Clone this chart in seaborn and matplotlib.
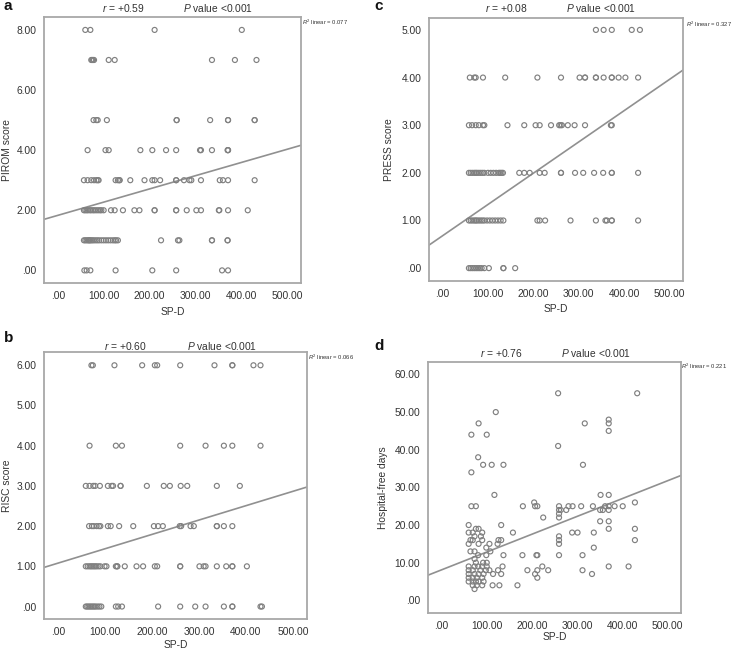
import matplotlib
matplotlib.use("Agg")
import matplotlib.pyplot as plt
import seaborn as sns
import numpy as np

# ---------------- data ----------------
x_ticks = [0, 100, 200, 300, 400, 500]

# Panel a: PIROM score vs SP-D
pirom_spd = [60, 71, 211, 401,
             73, 75, 77, 79, 111, 124, 336, 386, 433,
             78, 84, 87, 107, 259, 259, 332, 371, 371, 429, 429,
             65, 104, 111, 180, 206, 236, 258, 310, 312, 336, 370, 371, 371,
             57, 65, 73, 79, 84, 87, 89, 126, 131, 134, 135, 158, 189, 206, 211, 223, 258, 258, 275, 287, 291, 312, 353, 360, 371, 429,
             57, 60, 63, 66, 70, 73, 77, 80, 84, 88, 92, 95, 100, 116, 124, 142, 167, 178, 211, 211, 258, 258, 281, 302, 312, 351, 352, 371, 414,
             57, 60, 63, 66, 68, 70, 72, 75, 78, 82, 86, 90, 95, 100, 105, 110, 115, 120, 124, 127, 131, 225, 262, 265, 336, 336, 370, 370,
             58, 63, 71, 126, 206, 258, 358, 371]
pirom_score = [8, 8, 8, 8,
               7, 7, 7, 7, 7, 7, 7, 7, 7,
               5, 5, 5, 5, 5, 5, 5, 5, 5, 5, 5,
               4, 4, 4, 4, 4, 4, 4, 4, 4, 4, 4, 4, 4,
               3, 3, 3, 3, 3, 3, 3, 3, 3, 3, 3, 3, 3, 3, 3, 3, 3, 3, 3, 3, 3, 3, 3, 3, 3, 3,
               2, 2, 2, 2, 2, 2, 2, 2, 2, 2, 2, 2, 2, 2, 2, 2, 2, 2, 2, 2, 2, 2, 2, 2, 2, 2, 2, 2, 2,
               1, 1, 1, 1, 1, 1, 1, 1, 1, 1, 1, 1, 1, 1, 1, 1, 1, 1, 1, 1, 1, 1, 1, 1, 1, 1, 1, 1,
               0, 0, 0, 0, 0, 0, 0, 0]
pirom_yticks = [0, 2, 4, 6, 8]
pirom_fit = (1.83, 0.0044)   # intercept, slope

# Panel c: PRESS score vs SP-D
press_spd = [338, 355, 373, 417, 435,
             60, 70, 73, 89, 138, 209, 261, 302, 314, 314, 338, 338, 355, 373, 373, 388, 403, 431,
             58, 65, 73, 80, 89, 92, 143, 180, 205, 214, 239, 257, 260, 263, 276, 291, 314, 371, 373,
             58, 62, 66, 70, 73, 76, 80, 84, 88, 92, 100, 106, 112, 118, 124, 127, 130, 133, 169, 180, 192, 214, 225, 261, 261, 292, 310, 334, 354, 373, 373, 431,
             58, 62, 66, 70, 73, 76, 80, 84, 88, 92, 98, 104, 110, 116, 122, 128, 134, 209, 214, 226, 282, 338, 359, 362, 373, 373, 431,
             58, 62, 66, 70, 74, 78, 82, 86, 92, 102, 134, 134, 160]
press_score = [5, 5, 5, 5, 5,
               4, 4, 4, 4, 4, 4, 4, 4, 4, 4, 4, 4, 4, 4, 4, 4, 4, 4,
               3, 3, 3, 3, 3, 3, 3, 3, 3, 3, 3, 3, 3, 3, 3, 3, 3, 3, 3,
               2, 2, 2, 2, 2, 2, 2, 2, 2, 2, 2, 2, 2, 2, 2, 2, 2, 2, 2, 2, 2, 2, 2, 2, 2, 2, 2, 2, 2, 2, 2, 2,
               1, 1, 1, 1, 1, 1, 1, 1, 1, 1, 1, 1, 1, 1, 1, 1, 1, 1, 1, 1, 1, 1, 1, 1, 1, 1, 1,
               0, 0, 0, 0, 0, 0, 0, 0, 0, 0, 0, 0, 0]
press_yticks = [0, 1, 2, 3, 4, 5]
press_fit = (0.68, 0.00656)

# Panel b: RISC score vs SP-D
risc_spd = [71, 74, 120, 179, 206, 211, 260, 333, 371, 371, 416, 431,
            67, 123, 136, 260, 314, 353, 371, 431,
            59, 67, 75, 79, 89, 106, 114, 117, 133, 133, 189, 225, 238, 261, 275, 338, 387,
            66, 72, 76, 82, 87, 90, 106, 112, 130, 160, 204, 213, 223, 259, 262, 282, 289, 338, 338, 353, 371,
            59, 63, 67, 70, 73, 76, 79, 82, 86, 90, 99, 103, 123, 126, 126, 142, 167, 181, 206, 211, 260, 260, 301, 310, 314, 338, 358, 371, 371, 402,
            59, 62, 65, 68, 71, 74, 77, 80, 84, 88, 92, 123, 128, 136, 213, 260, 292, 314, 353, 371, 371, 431, 434]
risc_score = [6, 6, 6, 6, 6, 6, 6, 6, 6, 6, 6, 6,
              4, 4, 4, 4, 4, 4, 4, 4,
              3, 3, 3, 3, 3, 3, 3, 3, 3, 3, 3, 3, 3, 3, 3, 3, 3,
              2, 2, 2, 2, 2, 2, 2, 2, 2, 2, 2, 2, 2, 2, 2, 2, 2, 2, 2, 2, 2,
              1, 1, 1, 1, 1, 1, 1, 1, 1, 1, 1, 1, 1, 1, 1, 1, 1, 1, 1, 1, 1, 1, 1, 1, 1, 1, 1, 1, 1, 1,
              0, 0, 0, 0, 0, 0, 0, 0, 0, 0, 0, 0, 0, 0, 0, 0, 0, 0, 0, 0, 0, 0, 0]
risc_yticks = [0, 1, 2, 3, 4, 5, 6]
risc_fit = (1.08, 0.00357)

# Panel d: Hospital-free days vs SP-D
hfd_spd = [66, 82, 100, 120, 66, 81, 92, 111, 137, 117, 66, 76, 60,
           258, 433, 258, 317, 370, 370, 370, 313,
           352, 370, 428,
           180, 205, 207, 212, 225, 260, 260, 264, 276, 281, 290, 309, 335, 351, 357, 362, 370, 383, 401, 370,
           260, 260, 351, 370, 370, 428, 428,
           260, 260, 260, 260, 289, 301, 337, 337, 312, 312, 333, 370, 414,
           158, 179, 210, 212, 190, 207, 212, 212, 223, 236, 168, 137, 132, 126, 124, 132, 135, 132, 125, 128, 113, 114, 106, 98, 100, 100, 99, 99, 106, 108,
           60, 64, 60, 69, 73, 76, 82, 69, 90, 87, 90, 82, 64, 73, 81, 73, 76, 92, 60, 73, 81, 90, 60, 69, 86, 60, 73, 82, 93, 60, 69, 78, 90, 60, 69, 76, 82, 93, 69, 78, 90, 73]
hfd_days = [44, 47, 44, 50, 34, 38, 36, 36, 36, 28, 25, 25, 20,
            55, 55, 41, 47, 48, 47, 45, 36,
            28, 28, 26,
            25, 26, 25, 25, 22, 25, 24, 24, 24, 25, 25, 25, 25, 24, 24, 25, 25, 25, 25, 24,
            23, 22, 21, 21, 19, 19, 16,
            17, 16, 15, 12, 18, 18, 18, 14, 12, 8, 7, 9, 9,
            18, 12, 12, 12, 8, 7, 8, 6, 9, 8, 4, 12, 20, 16, 15, 16, 9, 7, 8, 4, 4, 7, 8, 8, 10, 9, 12, 14, 15, 13,
            18, 16, 15, 16, 17, 19, 19, 18, 18, 17, 16, 15, 13, 13, 12, 11, 10, 10, 9, 9, 9, 9, 8, 8, 8, 7, 7, 7, 7, 6, 6, 6, 6, 5, 5, 5, 5, 5, 4, 4, 4, 3]
hfd_yticks = [0, 10, 20, 30, 40, 50, 60]
hfd_fit = (8.1, 0.0473)

# annotation texts
panel_letters = ["a", "c", "b", "d"]
r_texts = ["+0.59", "+0.08", "+0.60", "+0.76"]
p_text = "value <0.001"
r2_texts = ["0.077", "0.327", "0.066", "0.221"]
y_labels = ["PIROM score", "PRESS score", "RISC score", "Hospital-free days"]
x_label = "SP-D"

# ---------------- style ----------------
sns.set_style("white")
plt.rcParams["font.family"] = ["Liberation Sans", "DejaVu Sans"]
plt.rcParams["mathtext.fontset"] = "custom"
plt.rcParams["mathtext.it"] = "Liberation Sans:italic"
plt.rcParams["mathtext.rm"] = "Liberation Sans"

W, H = 736, 650
fig = plt.figure(figsize=(W / 100, H / 100), dpi=100)
fig.patch.set_facecolor("white")

TXT = "#333333"
FRAME = "#a8a8a8"
PT = "#808080"
LINE = "#909090"

def fx(px):
    return px / W

def fy(py):
    return 1 - py / H

def fmt(v):
    s = f"{v:.2f}"
    return s[1:] if s.startswith("0") else s

# axes rectangles in pixels: left, top, right, bottom
rects = [(44, 17, 301, 283), (429, 18, 683, 281), (44, 352, 307, 619), (428, 362, 681, 613)]
ylims = [(-0.42, 8.43), (-0.27, 5.25), (-0.31, 6.33), (-3.36, 63.3)]
datasets = [(pirom_spd, pirom_score, pirom_yticks, pirom_fit),
            (press_spd, press_score, press_yticks, press_fit),
            (risc_spd, risc_score, risc_yticks, risc_fit),
            (hfd_spd, hfd_days, hfd_yticks, hfd_fit)]
letter_pos = [(4, 6), (374, 6), (4, 338), (374, 346)]
r_pos = [(123, 8), (506, 8), (125, 346), (501, 353)]
p_pos = [(218, 8), (601, 8), (222, 346), (596, 353)]
r2_pos = [(302, 22), (686, 24), (308, 357), (681, 366)]
ylab_x = [7, 389, 7, 383]
xlab_y = [312, 309, 645, 637]

for i, (l, t, r, b) in enumerate(rects):
    ax = fig.add_axes([fx(l), fy(b), fx(r) - fx(l), (b - t) / H])
    xs, ys, yt, (b0, m) = datasets[i]
    sns.scatterplot(x=xs, y=ys, ax=ax, s=13, marker="o", facecolor="none",
                    edgecolor=PT, linewidth=0.85, zorder=3)
    ax.axline((0, b0), slope=m, color=LINE, lw=1.2, zorder=2)
    ax.set_xlim(-30, 530)
    ax.set_ylim(*ylims[i])
    ax.set_xticks(x_ticks)
    ax.set_xticklabels([fmt(v) for v in x_ticks])
    ax.set_yticks(yt)
    ax.set_yticklabels([fmt(v) for v in yt])
    ax.tick_params(axis="both", labelsize=7.4, colors=TXT, length=2.5, width=0.8,
                   direction="out", pad=3)
    ax.tick_params(axis="both", color=FRAME)
    for sp in ax.spines.values():
        sp.set_color(FRAME)
        sp.set_linewidth(1.3)
    ax.set_xlabel("")
    ax.set_ylabel("")

    cx = (l + r) / 2
    fig.text(fx(ylab_x[i]), fy((t + b) / 2), y_labels[i], rotation=90,
             ha="center", va="center", fontsize=7.4, color=TXT)
    fig.text(fx(cx), fy(xlab_y[i]), x_label, ha="center", va="center",
             fontsize=7.4, color=TXT)
    fig.text(fx(letter_pos[i][0]), fy(letter_pos[i][1]), panel_letters[i],
             ha="left", va="center", fontsize=11, fontweight="bold", color="#111111")
    fig.text(fx(r_pos[i][0]), fy(r_pos[i][1]), r"$\it{r}$ = " + r_texts[i],
             ha="center", va="center", fontsize=7.4, color=TXT)
    fig.text(fx(p_pos[i][0]), fy(p_pos[i][1]), r"$\it{P}$ " + p_text,
             ha="center", va="center", fontsize=7.4, color=TXT)
    fig.text(fx(r2_pos[i][0]), fy(r2_pos[i][1]), r"$\it{R}^2$ linear = " + r2_texts[i],
             ha="left", va="center", fontsize=4.2, color=TXT)

fig.savefig("out.png", dpi=100, facecolor="white")
